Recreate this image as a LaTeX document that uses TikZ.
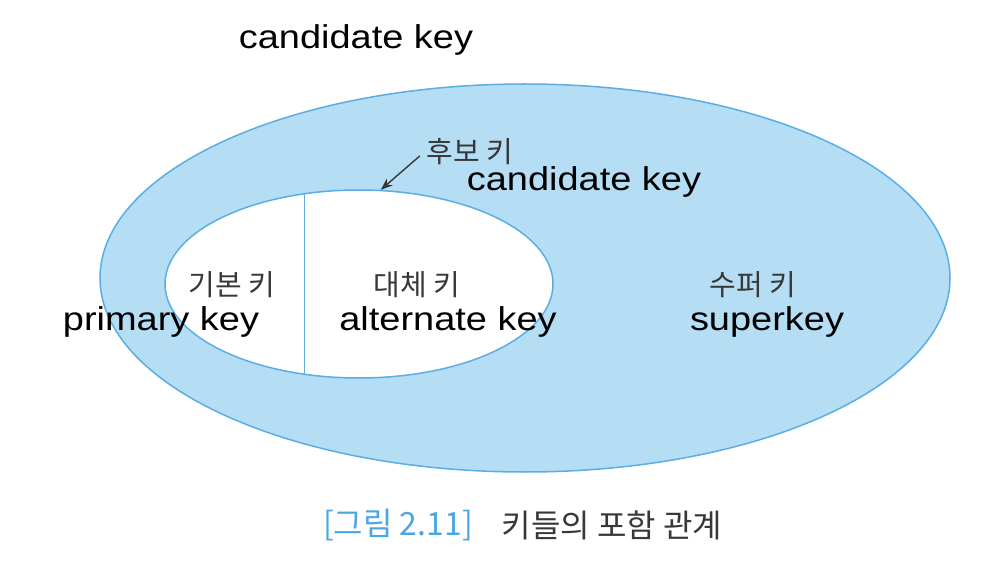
\documentclass[tikz,border=0pt]{standalone}
\usepackage{fontspec}
\setmainfont{Liberation Sans}
\newfontfamily\enfont[FakeStretch=1.15]{Liberation Sans}
\newfontfamily\kofont{Noto Sans CJK KR}
\usetikzlibrary{arrows.meta,positioning,shapes.geometric}
\definecolor{skyfill}{HTML}{B5DEF5}
\definecolor{skyline}{HTML}{5AAEE3}
\definecolor{capblue}{HTML}{4CA6E2}
\definecolor{kogray}{HTML}{383838}
\tikzset{
  keyset/.style={ellipse, draw=skyline, fill=#1, line width=0.75pt,
    inner sep=0pt},
  keyset/.default=skyfill,
  enlabel/.style={font=\enfont\fontsize{16.5}{18}\selectfont, inner sep=1pt},
  kolabel/.style={font=\kofont\fontsize{14.5}{16}\selectfont, text=kogray,
    inner sep=1pt},
  caplabel/.style={font=\kofont\fontsize{16}{18}\selectfont, text=#1,
    inner sep=1pt},
  caplabel/.default=kogray,
  pointer/.style={-{Stealth[length=6pt,width=4.5pt]}, line width=0.7pt,
    color=kogray},
}
\begin{document}
\begin{tikzpicture}[x=0.5pt, y=-0.5pt]
\useasboundingbox (0,0) rectangle (1006,566);
% key sets
\node[keyset, minimum width=425pt, minimum height=194pt] (super) at (525,278) {};
\node[keyset=white, minimum width=194pt, minimum height=94pt] (cand) at (359,284) {};
\draw[skyline, line width=0.75pt] (cand.121) -- (cand.239);
% labels
\node[enlabel] (topck) at (356,40) {candidate key};
\node[kolabel] (ckko) at (470,152) {후보 키};
\node[enlabel] (cken) at (584,182) {candidate key};
\node[kolabel] (pkko) at (232,285) {기본 키};
\node[enlabel] (pken) at (161,322) {primary key};
\node[kolabel] (akko) at (417,285) {대체 키};
\node[enlabel] (aken) at (448,322) {alternate key};
\node[kolabel] (skko) at (753,285) {수퍼 키};
\node[enlabel] (sken) at (767,322) {superkey};
\draw[pointer, shorten <=3pt] (ckko.west) -- (cand.77);
% caption
\node[caplabel=capblue] (fignum) at (398,525) {[그림 2.11]};
\node[caplabel, right=12pt of fignum] (figcap) {키들의 포함 관계};
\end{tikzpicture}
\end{document}
